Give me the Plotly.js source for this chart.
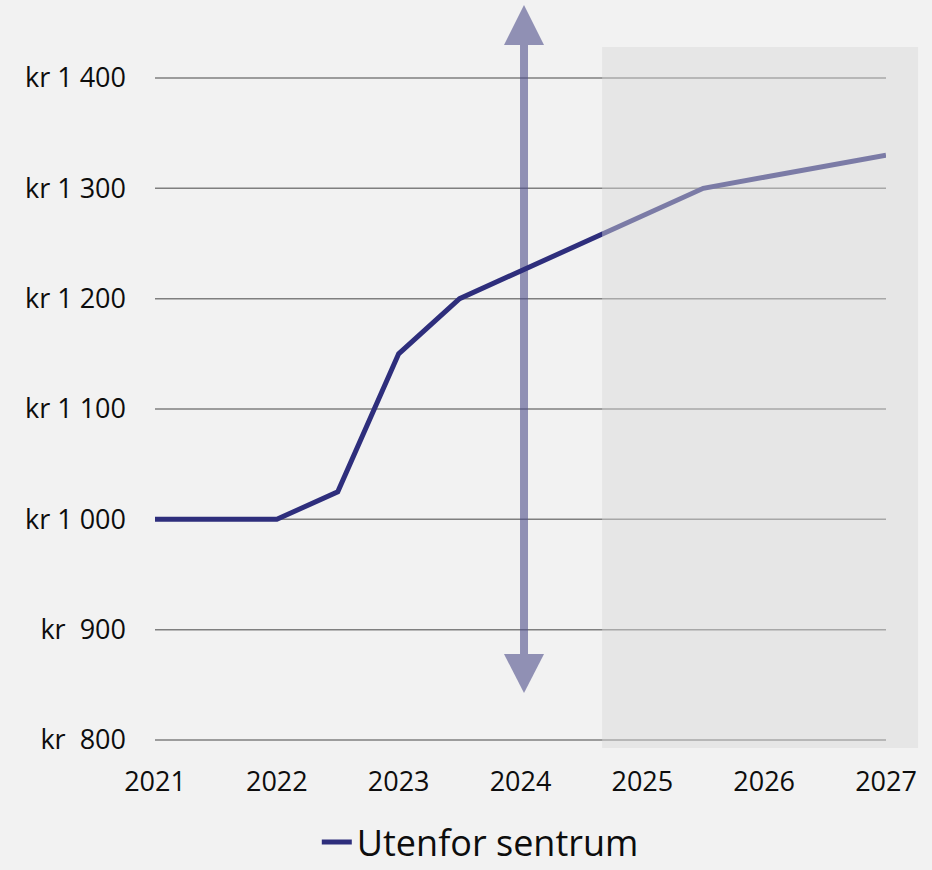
<!DOCTYPE html>
<html>
<head>
<meta charset="utf-8">
<script src="https://cdn.plot.ly/plotly-3.0.1.min.js"></script>
<style>
  html, body { margin: 0; padding: 0; background: #F2F2F2; }
  #chart { width: 932px; height: 870px; }
</style>
</head>
<body>
<div id="chart"></div>
<script>
// ---- Data ----
const seriesName = 'Utenfor sentrum';
const years = [2021, 2021.5, 2022, 2022.5, 2023, 2023.5, 2024, 2024.5, 2025, 2025.5, 2026, 2026.5, 2027];
const prices = [1000, 1000, 1000, 1025, 1150, 1200, 1225, 1250, 1275, 1300, 1310, 1320, 1330];
const xTickVals = [2021, 2022, 2023, 2024, 2025, 2026, 2027];
const xTickText = ['2021', '2022', '2023', '2024', '2025', '2026', '2027'];
const yTickVals = [800, 900, 1000, 1100, 1200, 1300, 1400];
const yTickText = ['kr\u00a0\u00a0800', 'kr\u00a0\u00a0900', 'kr\u00a01\u00a0000', 'kr\u00a01\u00a0100', 'kr\u00a01\u00a0200', 'kr\u00a01\u00a0300', 'kr\u00a01\u00a0400'];
const forecastStart = 2024.67;

// ---- Layout helpers ----
const xMin = 2021, xMax = 2027;
const yMin = 799.1, yMax = 1400.9;
const toPaperX = v => (v - xMin) / (xMax - xMin);
const valToPaperY = v => (v - yMin) / (yMax - yMin);

// plot area in pixels: top 77, bottom 741 (height 664)
const plotTop = 77, plotBottom = 741, plotH = plotBottom - plotTop;
const toPaperY = py => (plotBottom - py) / plotH;

const arrowX = 0.5048;
const arrowColor = 'rgba(79,79,139,0.6)';
const headHalf = 0.0274;

const trace = {
  x: years,
  y: prices,
  type: 'scatter',
  mode: 'lines',
  name: seriesName,
  line: { color: '#2E2E7C', width: 5 },
  hoverinfo: 'skip'
};

// gridlines (drawn as shapes so they sit under the translucent arrow)
const gridShapes = yTickVals.map(v => ({
  type: 'line', xref: 'paper', yref: 'paper', layer: 'below',
  x0: 0, x1: 1, y0: valToPaperY(v), y1: valToPaperY(v),
  line: { color: '#7F7F7F', width: 1.5 }
}));

const arrowShapes = [
  {
    type: 'line', xref: 'paper', yref: 'paper', layer: 'below',
    x0: arrowX, x1: arrowX, y0: toPaperY(654), y1: toPaperY(45),
    line: { color: arrowColor, width: 8 }
  },
  {
    type: 'path', xref: 'paper', yref: 'paper', layer: 'below',
    path: `M ${arrowX - headHalf},${toPaperY(45)} L ${arrowX + headHalf},${toPaperY(45)} L ${arrowX},${toPaperY(5)} Z`,
    fillcolor: arrowColor, line: { width: 0 }
  },
  {
    type: 'path', xref: 'paper', yref: 'paper', layer: 'below',
    path: `M ${arrowX - headHalf},${toPaperY(654)} L ${arrowX + headHalf},${toPaperY(654)} L ${arrowX},${toPaperY(693)} Z`,
    fillcolor: arrowColor, line: { width: 0 }
  }
];

const shadeShape = {
  type: 'rect', xref: 'paper', yref: 'paper', layer: 'above',
  x0: toPaperX(forecastStart), x1: 1.0438, y0: toPaperY(748), y1: toPaperY(47),
  fillcolor: 'rgba(216,216,216,0.46)', line: { width: 0 }
};

const layout = {
  width: 932,
  height: 870,
  autosize: false,
  paper_bgcolor: '#F2F2F2',
  plot_bgcolor: 'rgba(0,0,0,0)',
  margin: { l: 155, r: 46, t: plotTop, b: 870 - plotBottom, pad: 0, autoexpand: false },
  font: { family: 'Open Sans, sans-serif', color: '#0D0D0D', size: 27 },
  showlegend: true,
  legend: {
    orientation: 'h',
    x: 0.445, xanchor: 'center',
    yref: 'container',
    y: 0.032, yanchor: 'middle',
    font: { size: 36, color: '#0D0D0D' },
    bgcolor: 'rgba(0,0,0,0)'
  },
  xaxis: {
    range: [xMin, xMax],
    tickmode: 'array',
    tickvals: xTickVals,
    ticktext: xTickText,
    showgrid: false,
    zeroline: false,
    showline: false,
    ticks: '',
    ticklabelstandoff: 22,
    tickfont: { size: 27 },
    fixedrange: true
  },
  yaxis: {
    range: [yMin, yMax],
    tickmode: 'array',
    tickvals: yTickVals,
    ticktext: yTickText,
    showgrid: false,
    zeroline: false,
    showline: false,
    ticks: '',
    ticklabelstandoff: 28,
    tickfont: { size: 27 },
    fixedrange: true
  },
  shapes: [...gridShapes, ...arrowShapes, shadeShape]
};

Plotly.newPlot('chart', [trace], layout, { displayModeBar: false, staticPlot: true });
</script>
</body>
</html>
